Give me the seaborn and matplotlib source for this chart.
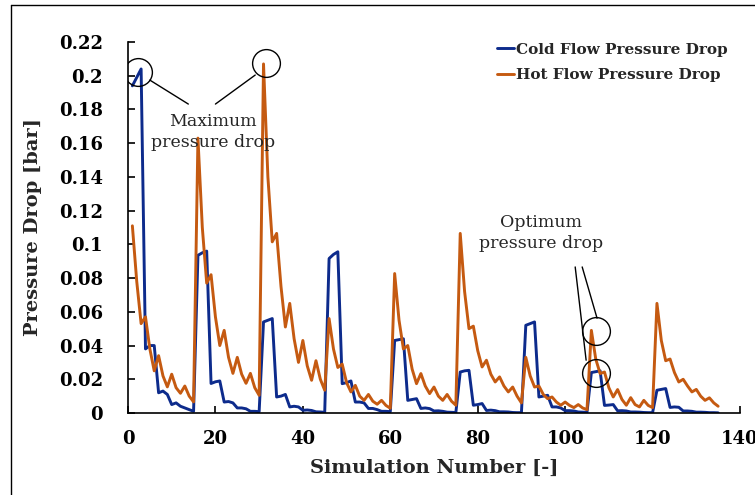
import pandas as pd
import seaborn as sns
import matplotlib.pyplot as plt
from matplotlib.lines import Line2D

# values, 15 simulations per block
cold_flow = [
    0.194, 0.199, 0.204, 0.038, 0.040, 0.040, 0.012, 0.013, 0.011, 0.005, 0.006, 0.004, 0.003, 0.002, 0.001,
    0.0935, 0.095, 0.096, 0.0175, 0.0185, 0.019, 0.0065, 0.0068, 0.006, 0.003, 0.003, 0.0025, 0.001, 0.001, 0.0008,
    0.054, 0.055, 0.056, 0.0095, 0.010, 0.011, 0.0036, 0.004, 0.0036, 0.0016, 0.0018, 0.0015, 0.0007, 0.0006, 0.0004,
    0.0916, 0.094, 0.0956, 0.0174, 0.018, 0.019, 0.0065, 0.0065, 0.006, 0.0027, 0.0027, 0.002, 0.001, 0.001, 0.0008,
    0.043, 0.0435, 0.044, 0.0075, 0.008, 0.0085, 0.0027, 0.003, 0.0026, 0.0012, 0.0013, 0.001, 0.0005, 0.0004, 0.0003,
    0.0243, 0.025, 0.0253, 0.0046, 0.005, 0.0056, 0.0015, 0.0017, 0.0014, 0.0007, 0.0007, 0.0006, 0.0003, 0.0002, 0.0002,
    0.052, 0.053, 0.054, 0.0095, 0.010, 0.0105, 0.0036, 0.0036, 0.003, 0.0014, 0.0014, 0.0012, 0.0006, 0.0005, 0.0004,
    0.024, 0.0245, 0.025, 0.0045, 0.0047, 0.005, 0.0013, 0.0014, 0.0012, 0.0006, 0.0006, 0.0005, 0.0003, 0.0002, 0.0002,
    0.0135, 0.014, 0.0145, 0.0033, 0.0036, 0.0034, 0.0012, 0.0012, 0.001, 0.0005, 0.0005, 0.0004, 0.0002, 0.0002, 0.0001,
]
hot_flow = [
    0.111, 0.078, 0.053, 0.057, 0.038, 0.025, 0.034, 0.022, 0.0155, 0.023, 0.015, 0.0117, 0.016, 0.010, 0.0066,
    0.163, 0.110, 0.077, 0.082, 0.057, 0.040, 0.049, 0.033, 0.0235, 0.033, 0.023, 0.0176, 0.0235, 0.015, 0.0105,
    0.207, 0.140, 0.1015, 0.1065, 0.075, 0.051, 0.065, 0.044, 0.030, 0.043, 0.028, 0.0194, 0.031, 0.020, 0.0135,
    0.056, 0.038, 0.027, 0.029, 0.018, 0.0125, 0.0164, 0.010, 0.0075, 0.011, 0.007, 0.0052, 0.0075, 0.0045, 0.0028,
    0.0827, 0.055, 0.038, 0.040, 0.026, 0.0174, 0.0234, 0.016, 0.0115, 0.0154, 0.010, 0.0075, 0.011, 0.007, 0.0046,
    0.1065, 0.072, 0.050, 0.0515, 0.037, 0.0273, 0.0313, 0.023, 0.0184, 0.0214, 0.016, 0.0125, 0.0154, 0.010, 0.006,
    0.033, 0.022, 0.0154, 0.016, 0.011, 0.0085, 0.0095, 0.0065, 0.0046, 0.0065, 0.0045, 0.0032, 0.005, 0.003, 0.002,
    0.049, 0.032, 0.0234, 0.0243, 0.015, 0.0095, 0.0139, 0.008, 0.0046, 0.0091, 0.005, 0.0036, 0.0075, 0.0045, 0.0032,
    0.065, 0.043, 0.031, 0.032, 0.024, 0.0184, 0.020, 0.016, 0.0125, 0.014, 0.010, 0.0075, 0.009, 0.006, 0.004,
]
sim_number = list(range(1, len(cold_flow) + 1))
series_names = ['Cold Flow Pressure Drop', 'Hot Flow Pressure Drop']
x_ticks = [0, 20, 40, 60, 80, 100, 120, 140]
y_ticks = [0, 0.02, 0.04, 0.06, 0.08, 0.1, 0.12, 0.14, 0.16, 0.18, 0.2, 0.22]
y_tick_labels = ['0', '0.02', '0.04', '0.06', '0.08', '0.1', '0.12', '0.14', '0.16', '0.18', '0.2', '0.22']

xname = 'Simulation Number [-]'
yname = 'Pressure Drop [bar]'
df = pd.DataFrame({
    xname: sim_number + sim_number,
    yname: cold_flow + hot_flow,
    'Series': [series_names[0]] * len(cold_flow) + [series_names[1]] * len(hot_flow),
})

sns.set_style('ticks')
plt.rcParams['font.family'] = ['DejaVu Serif']

fig = plt.figure(figsize=(7.55, 4.95), dpi=100)
ax = fig.add_axes([128 / 755, 82 / 495, 612 / 755, 371 / 495])
sns.lineplot(data=df, x=xname, y=yname, hue='Series', palette=['#0d2b8c', '#c55a11'],
             linewidth=2.1, ax=ax)

ax.set_xlim(0, 140)
ax.set_ylim(0, 0.22)
ax.set_xticks(x_ticks)
ax.set_yticks(y_ticks)
ax.set_yticklabels(y_tick_labels)
ax.tick_params(direction='in', length=5, width=1.2, labelsize=13, colors='black')
ax.tick_params(axis='y', pad=18)
ax.tick_params(axis='x', pad=12)
for lab in ax.get_xticklabels() + ax.get_yticklabels():
    lab.set_fontweight('bold')
for s in ['top', 'right']:
    ax.spines[s].set_visible(False)
for s in ['left', 'bottom']:
    ax.spines[s].set_linewidth(1.2)
    ax.spines[s].set_color('black')

ax.set_xlabel(xname, fontsize=14, fontweight='bold', labelpad=8)
ax.set_ylabel(yname, fontsize=14, fontweight='bold', labelpad=12)

ax.legend(loc='upper right', bbox_to_anchor=(0.99, 1.015), frameon=False,
          prop={'size': 11, 'weight': 'bold'},
          handlelength=1.1, handletextpad=0.15, labelspacing=0.75, borderaxespad=0)

# annotations: circles, leader lines and labels
ring = dict(marker='o', markersize=20, markerfacecolor='none', markeredgecolor='black',
            markeredgewidth=1.0, linestyle='none')
ax.plot([2.4, 31.6], [0.2024, 0.2074], **ring)
ax.plot([107.1, 107.1], [0.0487, 0.024], **ring)
ax.plot([5.0, 13.8], [0.1974, 0.1832], color='black', lw=1.0)
ax.plot([20.0, 29.1], [0.1832, 0.2004], color='black', lw=1.0)
ax.plot([102.3, 104.8], [0.0866, 0.0313], color='black', lw=1.0)
ax.plot([103.9, 107.3], [0.0866, 0.0562], color='black', lw=1.0)
ax.text(19.5, 0.1665, 'Maximum\npressure drop', ha='center', va='center', fontsize=12.5,
        linespacing=1.3)
ax.text(94.5, 0.1066, 'Optimum\npressure drop', ha='center', va='center', fontsize=12.5,
        linespacing=1.3)

# chart area border (left and top edges)
fig.add_artist(Line2D([11 / 755, 11 / 755], [0, 1 - 5 / 495], color='black', lw=1.0))
fig.add_artist(Line2D([11 / 755, 1], [1 - 5 / 495, 1 - 5 / 495], color='black', lw=1.0))

plt.savefig('out.png', dpi=100)
